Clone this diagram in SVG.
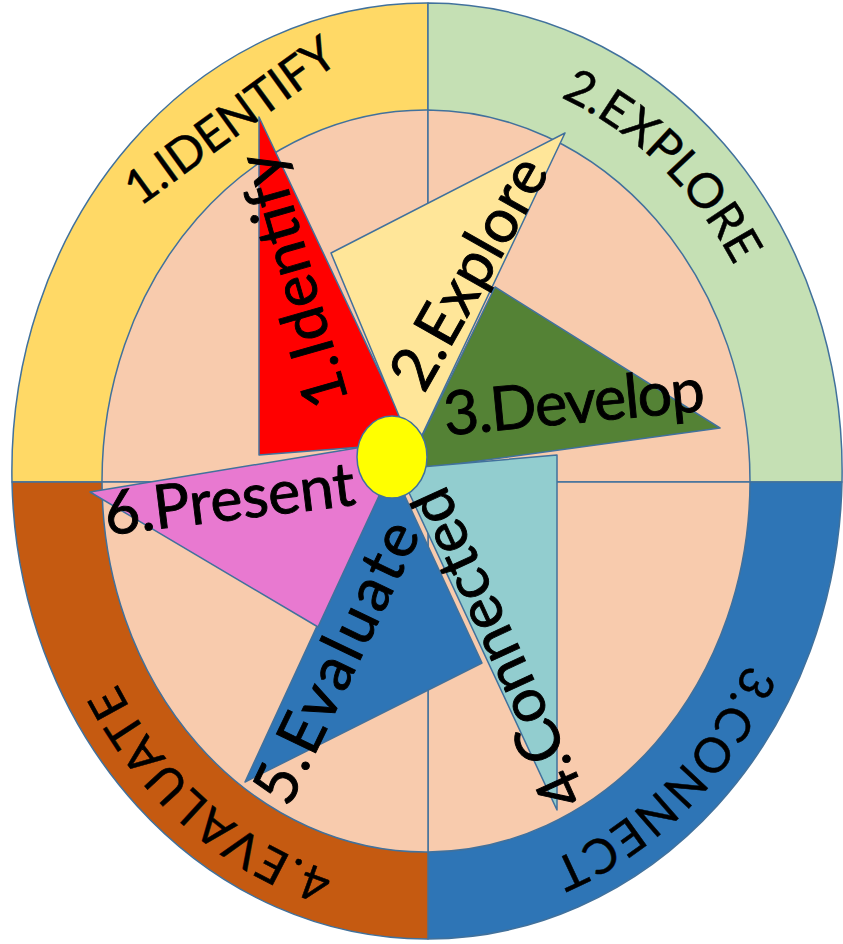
<svg xmlns="http://www.w3.org/2000/svg" width="843" height="944" viewBox="0 0 843 944">
<defs>
<style>
.s{stroke:#41719C;stroke-width:1.5;stroke-linejoin:round}
.lbl{font-family:Lato,"Open Sans","Liberation Sans",sans-serif;fill:#000;stroke:#000;stroke-width:0.9px;font-size:61px}
.out{font-family:Lato,"Open Sans","Liberation Sans",sans-serif;fill:#000;stroke:#000;stroke-width:0.5px;font-size:48px}
</style>
<path id="arcExplore" d="M427,68 A359,409 0 0 1 780.5,406"/>
<path id="arcConnect" d="M782.5,534 A359,409 0 0 1 439.5,886"/>
<path id="arcEvaluate" d="M433.3,886 A359,409 0 0 1 74.5,555"/>
</defs>
<rect width="843" height="944" fill="#fff"/>
<g id="outer-ring">
<path class="s" fill="#FFD966" d="M428,482 L12,482 A415,468 0 0 1 428,3 Z"/>
<path class="s" fill="#C5E0B4" d="M428,482 L428,3 A415,468 0 0 1 842,482 Z"/>
<path class="s" fill="#2E75B6" d="M428,482 L842,482 A415,468 0 0 1 428,939 Z"/>
<path class="s" fill="#C55A11" d="M428,482 L428,939 A415,468 0 0 1 12,482 Z"/>
</g>
<g id="inner-disc">
<path class="s" fill="#F8CBAD" d="M428,482 L102,482 A324,371 0 0 1 428,110 Z"/>
<path class="s" fill="#F8CBAD" d="M428,482 L428,110 A324,371 0 0 1 750,482 Z"/>
<path class="s" fill="#F8CBAD" d="M428,482 L750,482 A324,371 0 0 1 428,852 Z"/>
<path class="s" fill="#F8CBAD" d="M428,482 L428,852 A324,371 0 0 1 102,482 Z"/>
</g>
<g id="ring-labels">
<text class="out" transform="translate(240,134) rotate(-36)" text-anchor="middle" textLength="248">1.IDENTIFY</text>
<text class="out"><textPath href="#arcExplore" startOffset="49%" text-anchor="middle">2.EXPLORE</textPath></text>
<text class="out" letter-spacing="2"><textPath href="#arcConnect" startOffset="52%" text-anchor="middle">3.CONNECT</textPath></text>
<text class="out" letter-spacing="2.5"><textPath href="#arcEvaluate" startOffset="47%" text-anchor="middle">4.EVALUATE</textPath></text>
</g>
<g id="step1-identify">
<polygon class="s" fill="#FF0000" points="259,117 259,455 413,443"/>
<text class="lbl" transform="translate(313,275) rotate(-106)" text-anchor="middle" textLength="262">1.Identify</text>
</g>
<g id="step2-explore">
<polygon class="s" fill="#FFE699" points="565,133 331,253 414,452"/>
<text class="lbl" transform="translate(487,283) rotate(-60.5)" text-anchor="middle" textLength="256">2.Explore</text>
</g>
<g id="step3-develop">
<polygon class="s" fill="#548235" points="495,287 720,428 405,471"/>
<text class="lbl" transform="translate(576,423) rotate(-5.5)" text-anchor="middle" textLength="262">3.Develop</text>
</g>
<g id="step4-connected">
<polygon class="s" fill="#92CDCF" points="557,455 557,810 398,469"/>
<text class="lbl" transform="translate(516,640) rotate(-114.5)" text-anchor="middle" textLength="344">4.Connected</text>
</g>
<g id="step5-evaluate">
<polygon class="s" fill="#2E75B6" points="245,782 482,663 391,466"/>
<text class="lbl" transform="translate(355,671) rotate(-64.3)" text-anchor="middle" textLength="305">5.Evaluate</text>
</g>
<g id="step6-present">
<polygon class="s" fill="#E879D0" points="90,492 318,627 405,440"/>
<text class="lbl" transform="translate(232,520) rotate(-7)" text-anchor="middle" textLength="252">6.Present</text>
</g>
<g id="hub">
<ellipse class="s" fill="#FFFF00" cx="392" cy="457" rx="35" ry="41"/>
</g>
</svg>
